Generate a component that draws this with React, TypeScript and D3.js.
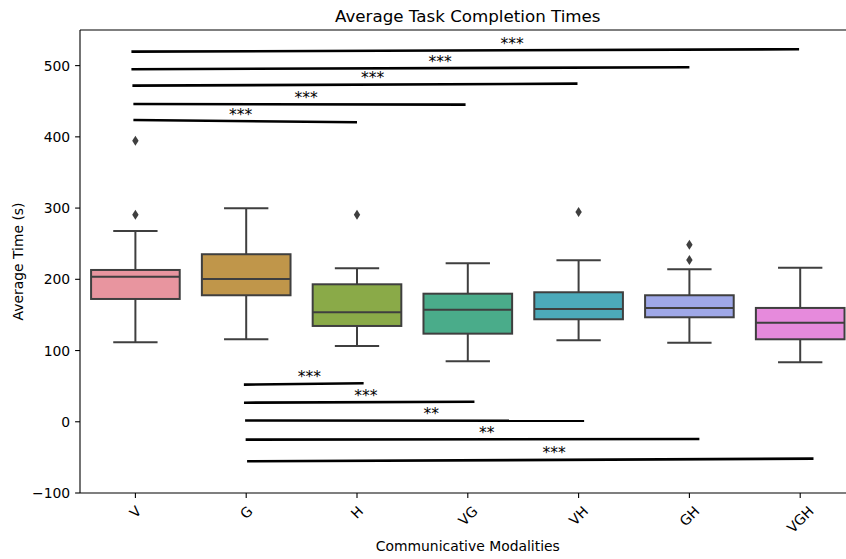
import * as d3 from "d3";

const categories = ["V", "G", "H", "VG", "VH", "GH", "VGH"];
const boxColors = ["#e8959f", "#c0964a", "#8aaa48", "#4aac8a", "#4caaba", "#9fa8e8", "#e68adc"];
const q1 = [172.4, 177.6, 134.5, 123.7, 143.9, 146.7, 115.8];
const medians = [203.7, 200.5, 153.7, 157.4, 158.4, 159.8, 139.1];
const q3 = [213.1, 235.2, 193, 179.8, 181.8, 177.6, 159.8];
const whiskerLow = [111.6, 115.8, 106.4, 84.9, 114.4, 111, 83.5];
const whiskerHigh = [267.9, 299.7, 215.5, 222.5, 226.7, 214.1, 216.3];
const outliers = [[290.8, 394.6], [], [290.8], [], [294.5], [227, 248.6], []];

// significance bars, in category units (0 = V) and seconds
const sigFrom = [-0.018, -0.018, -0.027, -0.036, -0.036, 0.979, 0.98, 0.99, 0.995, 1.008];
const sigTo = [2.0, 2.98, 3.99, 5.0, 5.99, 2.06, 3.06, 4.05, 5.09, 6.12];
const sigFromVal = [423.7, 446.2, 471.9, 494.9, 519.6, 52.1, 26.8, 1.8, -25.1, -55.5];
const sigToVal = [420.5, 445.2, 474.7, 497.7, 523, 54.0, 28.2, 1.4, -24.1, -51.8];
const sigLabelAt = [0.95, 1.54, 2.14, 2.75, 3.4, 1.57, 2.08, 2.67, 3.17, 3.78];
const sigLabels = ["***", "***", "***", "***", "***", "***", "***", "**", "**", "***"];

const yTicks = [-100, 0, 100, 200, 300, 400, 500];

const width = 846;
const height = 559;
const margin = { top: 30, left: 80, bottom: 493 };
const plotRight = 855.6;
const font = "'DejaVu Sans', sans-serif";
const lineGray = "#3f3f3f";

let measureCtx: CanvasRenderingContext2D | null = null;
function textWidth(s: string, size: number) {
  if (!measureCtx) measureCtx = document.createElement("canvas").getContext("2d");
  if (!measureCtx) return s.length * size * 0.65;
  measureCtx.font = `${size}px 'DejaVu Sans'`;
  return measureCtx.measureText(s).width;
}

export default function App() {
  const x = d3.scaleBand<string>().domain(categories).range([margin.left, plotRight]).padding(0);
  const xPos = d3
    .scaleLinear()
    .domain([-0.5, categories.length - 0.5])
    .range([margin.left, plotRight]);
  const y = d3.scaleLinear().domain([-100, 550]).range([margin.bottom, margin.top]);

  const bw = x.bandwidth() * 0.8;
  const tickFont = 13.9;

  return (
    <div style={{ position: "absolute", left: 0, top: 0 }}>
      <svg width={width} height={height} style={{ display: "block", background: "#fff" }} fontFamily={font}>
        <text x={(margin.left + plotRight) / 2} y={21.5} textAnchor="middle" fontSize={16.7} fill="#000">
          Average Task Completion Times
        </text>

        {categories.map((c, i) => {
          const cx = x(c)! + x.bandwidth() / 2;
          const cap = bw / 2;
          return (
            <g key={c}>
              <line x1={cx} x2={cx} y1={y(q3[i])} y2={y(whiskerHigh[i])} stroke={lineGray} strokeWidth={2} />
              <line x1={cx} x2={cx} y1={y(q1[i])} y2={y(whiskerLow[i])} stroke={lineGray} strokeWidth={2} />
              <line x1={cx - cap / 2} x2={cx + cap / 2} y1={y(whiskerHigh[i])} y2={y(whiskerHigh[i])} stroke={lineGray} strokeWidth={2} />
              <line x1={cx - cap / 2} x2={cx + cap / 2} y1={y(whiskerLow[i])} y2={y(whiskerLow[i])} stroke={lineGray} strokeWidth={2} />
              <rect
                x={cx - bw / 2}
                y={y(q3[i])}
                width={bw}
                height={y(q1[i]) - y(q3[i])}
                fill={boxColors[i]}
                stroke={lineGray}
                strokeWidth={2}
              />
              <line x1={cx - bw / 2} x2={cx + bw / 2} y1={y(medians[i])} y2={y(medians[i])} stroke={lineGray} strokeWidth={2} />
              {outliers[i].map((v, k) => (
                <path
                  key={k}
                  d={`M${cx},${y(v) - 5}L${cx + 3.2},${y(v)}L${cx},${y(v) + 5}L${cx - 3.2},${y(v)}Z`}
                  fill={lineGray}
                />
              ))}
            </g>
          );
        })}

        {sigFrom.map((f, i) => {
          const t = (sigLabelAt[i] - f) / (sigTo[i] - f);
          const lv = sigFromVal[i] + (sigToVal[i] - sigFromVal[i]) * t;
          return (
            <g key={`sig-${i}`}>
              <line
                x1={xPos(f)}
                x2={xPos(sigTo[i])}
                y1={y(sigFromVal[i])}
                y2={y(sigToVal[i])}
                stroke="#000"
                strokeWidth={2.6}
              />
              <text x={xPos(sigLabelAt[i])} y={y(lv) - 1.5} textAnchor="middle" fontSize={15.5} fill="#000">
                {sigLabels[i]}
              </text>
            </g>
          );
        })}

        {/* spines */}
        <line x1={margin.left} x2={plotRight} y1={margin.top} y2={margin.top} stroke="#000" strokeWidth={1.1} />
        <line x1={margin.left} x2={plotRight} y1={margin.bottom} y2={margin.bottom} stroke="#000" strokeWidth={1.1} />
        <line x1={margin.left} x2={margin.left} y1={margin.top} y2={margin.bottom} stroke="#000" strokeWidth={1.1} />
        <line x1={plotRight} x2={plotRight} y1={margin.top} y2={margin.bottom} stroke="#000" strokeWidth={1.1} />

        {yTicks.map((t) => (
          <g key={`yt-${t}`}>
            <line x1={margin.left - 4.9} x2={margin.left} y1={y(t)} y2={y(t)} stroke="#000" strokeWidth={1.1} />
            <text x={margin.left - 9.8} y={y(t)} dy="0.36em" textAnchor="end" fontSize={tickFont} fill="#000">
              {t < 0 ? `\u2212${Math.abs(t)}` : t}
            </text>
          </g>
        ))}

        {categories.map((c) => {
          const cx = x(c)! + x.bandwidth() / 2;
          const w = textWidth(c, tickFont);
          const h = tickFont * 1.16;
          const top = margin.bottom + 9.8;
          const cy = top + ((w + h) * Math.SQRT1_2) / 2;
          return (
            <g key={`xt-${c}`}>
              <line x1={cx} x2={cx} y1={margin.bottom} y2={margin.bottom + 4.9} stroke="#000" strokeWidth={1.1} />
              <text
                transform={`translate(${cx},${cy}) rotate(-45)`}
                textAnchor="middle"
                dy="0.36em"
                fontSize={tickFont}
                fill="#000"
              >
                {c}
              </text>
            </g>
          );
        })}

        <text x={(margin.left + plotRight) / 2} y={551} textAnchor="middle" fontSize={tickFont} fill="#000">
          Communicative Modalities
        </text>
        <text
          transform={`translate(23,${(margin.top + margin.bottom) / 2}) rotate(-90)`}
          textAnchor="middle"
          fontSize={tickFont}
          fill="#000"
        >
          Average Time (s)
        </text>
      </svg>
    </div>
  );
}
